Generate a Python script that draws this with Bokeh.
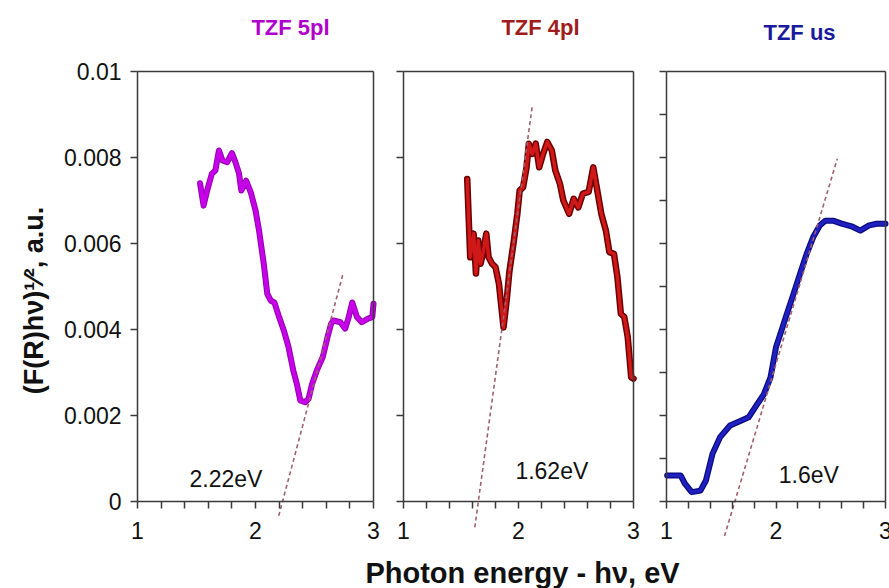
from bokeh.plotting import figure
from bokeh.layouts import row, column
from bokeh.models import FixedTicker, Label, Range1d, LinearAxis
from bokeh.core.properties import value
from bokeh.embed import file_html
from bokeh.resources import INLINE

FONT = "Liberation Sans"

# ---- data ----
x_5pl = [1.53, 1.56, 1.59, 1.63, 1.66, 1.69, 1.72, 1.76, 1.80, 1.83, 1.86, 1.88, 1.92, 1.96,
         2.00, 2.03, 2.07, 2.10, 2.13, 2.16, 2.20, 2.24, 2.28, 2.32, 2.35, 2.38, 2.42, 2.45,
         2.48, 2.52, 2.57, 2.61, 2.64, 2.66, 2.72, 2.76, 2.79, 2.82, 2.86, 2.90, 2.95, 2.99, 3.00]
y_5pl = [0.00740, 0.00688, 0.00723, 0.00762, 0.00770, 0.00816, 0.00793, 0.00789, 0.00810,
         0.00789, 0.00763, 0.00723, 0.00746, 0.00719, 0.00677, 0.00630, 0.00553, 0.00483,
         0.00467, 0.00463, 0.00429, 0.00398, 0.00359, 0.00305, 0.00274, 0.00235, 0.00231,
         0.00239, 0.00274, 0.00305, 0.00336, 0.00382, 0.00413, 0.00421, 0.00417, 0.00402,
         0.00429, 0.00463, 0.00429, 0.00417, 0.00425, 0.00429, 0.00460]

x_4pl = [1.554, 1.57, 1.58, 1.61, 1.63, 1.65, 1.67, 1.69, 1.72, 1.74, 1.77, 1.80, 1.83, 1.87,
         1.90, 1.92, 1.96, 1.99, 2.01, 2.04, 2.07, 2.09, 2.12, 2.15, 2.18, 2.21, 2.25, 2.29,
         2.32, 2.36, 2.39, 2.44, 2.48, 2.52, 2.56, 2.61, 2.65, 2.68, 2.72, 2.76, 2.79, 2.83,
         2.86, 2.89, 2.92, 2.95, 2.98, 3.00]
y_4pl = [0.00750, 0.00638, 0.00568, 0.00623, 0.00530, 0.00607, 0.00553, 0.00576, 0.00623,
         0.00568, 0.00553, 0.00545, 0.00506, 0.00405, 0.00475, 0.00533, 0.00607, 0.00669,
         0.00723, 0.00731, 0.00777, 0.00832, 0.00808, 0.00832, 0.00777, 0.00805, 0.00836,
         0.00816, 0.00770, 0.00739, 0.00700, 0.00669, 0.00704, 0.00684, 0.00716, 0.00720,
         0.00777, 0.00731, 0.00669, 0.00630, 0.00580, 0.00576, 0.00522, 0.00437, 0.00429,
         0.00382, 0.00289, 0.00286]

x_us = [1.006, 1.13, 1.17, 1.23, 1.31, 1.36, 1.42, 1.49, 1.58, 1.68, 1.75, 1.83, 1.89, 1.95,
        2.00, 2.04, 2.10, 2.16, 2.22, 2.28, 2.34, 2.40, 2.45, 2.52, 2.60, 2.69, 2.77, 2.85,
        2.92, 3.00]
y_us = [0.000605, 0.000605, 0.00041, 0.00022, 0.000256, 0.00049, 0.00111, 0.00150, 0.00177,
        0.00188, 0.00196, 0.00227, 0.00250, 0.00289, 0.00359, 0.00390, 0.00437, 0.00483,
        0.00530, 0.00576, 0.00615, 0.00642, 0.00653, 0.00653, 0.00646, 0.00640, 0.00630,
        0.00642, 0.00646, 0.00646]

# tangent (band-gap) lines: [start, end]
fit_5pl_x = [2.197, 2.74]
fit_5pl_y = [-0.00033, 0.00528]
fit_4pl_x = [1.62, 2.12]
fit_4pl_y = [-0.0006, 0.0092]
fit_us_x = [1.53, 2.56]
fit_us_y = [-0.0008, 0.00797]

titles = ["TZF 5pl", "TZF 4pl", "TZF us"]
title_colors = ["#b000cc", "#a01c1c", "#1a1a9c"]
gap_labels = ["2.22eV", "1.62eV", "1.6eV"]
gap_label_x = [1.75, 2.29, 2.30]
gap_label_y = [0.00053, 0.00072, 0.00063]

x_major = [1, 2, 3]
x_minor = [1.2, 1.4, 1.6, 1.8, 2.2, 2.4, 2.6, 2.8]
y_major_labeled = [0, 0.002, 0.004, 0.006, 0.008, 0.01]
y_labels = ["0", "0.002", "0.004", "0.006", "0.008", "0.01"]
y_major_fine = [0, 0.001, 0.002, 0.003, 0.004, 0.005, 0.006, 0.007, 0.008, 0.009, 0.01]

x_title = "Photon energy - h\u03bd, eV"
y_title = "(F(R)h\u03bd)\u00b9\u2044\u00b2, a.u."

AXIS_COL = "#3a3a3a"
FIT_COL = "#a0606e"
TEXT_COL = "#111111"
X_LO, X_HI = 1, 3
Y_TOP = 0.01             # top of the drawn box
Y_HI = 0.0103            # frame reaches a bit above the box so the "0.01" label is not cut
Y_LO = -0.00095          # frame extends a little below y = 0 so the tangents can cross the axis
TICK_LABEL_Y = -0.00068  # where the x tick labels sit (data units)
TICK_FONT = "23px"


def style_ticks(ax):
    ax.axis_line_color = AXIS_COL
    ax.axis_line_width = 1.5
    ax.major_tick_line_color = AXIS_COL
    ax.minor_tick_line_color = AXIS_COL
    ax.major_tick_line_width = 1.5
    ax.minor_tick_line_width = 1.5
    ax.major_tick_in = 0
    ax.major_tick_out = 7
    ax.minor_tick_in = 0
    ax.minor_tick_out = 7
    ax.major_label_standoff = 0


def border_axis(p, side):
    ax = LinearAxis(ticker=FixedTicker(ticks=[], minor_ticks=[]))
    if side == "right":
        ax.bounds = (0, Y_TOP)
        ax.fixed_location = X_HI
    else:
        ax.bounds = (X_LO, X_HI)
        ax.fixed_location = Y_TOP
    ax.axis_line_color = AXIS_COL
    ax.axis_line_width = 1.5
    ax.major_tick_line_color = None
    ax.minor_tick_line_color = None
    ax.major_label_standoff = 0
    p.add_layout(ax, side)


def make_panel(width, bl, br, pad_lo, pad_hi, yticks):
    p = figure(width=width, height=502,
               x_range=Range1d(X_LO - pad_lo, X_HI + pad_hi), y_range=Range1d(Y_LO, Y_HI),
               output_backend="svg", toolbar_location=None,
               min_border_left=bl, min_border_right=br, min_border_top=8, min_border_bottom=10)
    p.grid.visible = False
    p.outline_line_color = None
    p.background_fill_color = "white"
    p.border_fill_color = "white"

    xa = p.xaxis[0]
    xa.ticker = FixedTicker(ticks=[], minor_ticks=x_major + x_minor)
    xa.fixed_location = 0
    xa.bounds = (X_LO, X_HI)
    style_ticks(xa)

    ya = p.yaxis[0]
    ya.ticker = FixedTicker(ticks=[], minor_ticks=yticks)
    ya.bounds = (0, Y_TOP)
    ya.fixed_location = X_LO
    style_ticks(ya)

    border_axis(p, "right")
    border_axis(p, "above")

    # x tick labels
    p.text(x=x_major, y=[TICK_LABEL_Y] * len(x_major), text=[str(v) for v in x_major],
           text_font=value(FONT), text_font_size=TICK_FONT, text_color=TEXT_COL,
           text_align="center", text_baseline="middle")
    return p


p1 = make_panel(381, 52, 1, 85 / 118, 7 / 118, y_major_labeled)
p2 = make_panel(260, 8, 1, 14 / 115, 7 / 115, y_major_labeled)
p3 = make_panel(248, 8, 0, 17 / 109.5, 4 / 109.5, y_major_fine)

# y tick labels of the first panel
p1.text(x=[X_LO] * len(y_major_labeled), y=y_major_labeled, text=y_labels, x_offset=-16,
        text_font=value(FONT), text_font_size=TICK_FONT, text_color=TEXT_COL,
        text_align="right", text_baseline="middle")

# y-axis title (an axis that only carries the label)
ytitle_axis = LinearAxis(ticker=FixedTicker(ticks=[], minor_ticks=[]), bounds=(0, Y_TOP),
                         axis_label=y_title, axis_label_text_font=FONT,
                         axis_label_text_font_size="27px", axis_label_text_font_style="bold",
                         axis_label_text_color=TEXT_COL, axis_label_standoff=4,
                         axis_line_color=None, major_tick_line_color=None,
                         minor_tick_line_color=None, major_label_standoff=0)
p1.add_layout(ytitle_axis, "left")

# curves
p1.line(x_5pl, y_5pl, line_width=6, line_color="#9000b0", line_join="round", line_cap="round")
p1.line(x_5pl, y_5pl, line_width=4, line_color="#c800e8", line_join="round", line_cap="round")
p2.line(x_4pl, y_4pl, line_width=6.5, line_color="#6a0000", line_join="round", line_cap="round")
p2.line(x_4pl, y_4pl, line_width=3.5, line_color="#d01818", line_join="round", line_cap="round")
p3.line(x_us, y_us, line_width=6, line_color="#0a0a80", line_join="round", line_cap="round")
p3.line(x_us, y_us, line_width=3.5, line_color="#2020c0", line_join="round", line_cap="round")

# tangent lines
for p, fx, fy in [(p1, fit_5pl_x, fit_5pl_y), (p2, fit_4pl_x, fit_4pl_y), (p3, fit_us_x, fit_us_y)]:
    p.line(fx, fy, line_color=FIT_COL, line_width=1.6, line_dash="4 3")

# band gap labels
for p, t, lx, ly in zip([p1, p2, p3], gap_labels, gap_label_x, gap_label_y):
    p.add_layout(Label(x=lx, y=ly, text=t, text_font=FONT, text_font_size=TICK_FONT,
                       text_color=TEXT_COL, text_align="center", text_baseline="middle"))


def strip(height):
    f = figure(width=889, height=height, x_range=Range1d(0, 889), y_range=Range1d(0, height),
               output_backend="svg", toolbar_location=None,
               x_axis_location=None, y_axis_location=None,
               min_border_left=0, min_border_right=0, min_border_top=0, min_border_bottom=0)
    f.grid.visible = False
    f.outline_line_color = None
    return f


# panel titles strip (above)
top = strip(50)
for t, c, tx, ty in zip(titles, title_colors, [290, 540, 799], [23, 23, 18]):
    top.add_layout(Label(x=tx, y=ty, text=t, text_font=FONT, text_font_size="22px",
                         text_font_style="bold", text_color=c,
                         text_align="center", text_baseline="middle"))

# shared x-axis title strip (below)
bottom = strip(36)
bottom.add_layout(Label(x=522, y=16, text=x_title, text_font=FONT, text_font_size="29px",
                        text_font_style="bold", text_color=TEXT_COL,
                        text_align="center", text_baseline="middle"))

layout = column(top, row(p1, p2, p3), bottom)
open("out.html", "w").write(file_html(layout, INLINE))
